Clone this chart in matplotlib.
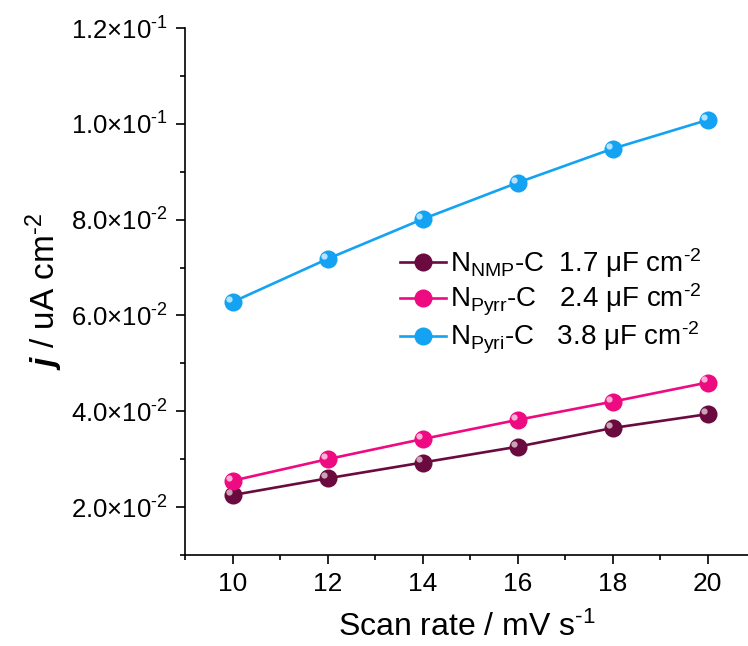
import matplotlib
matplotlib.use("Agg")
import matplotlib.pyplot as plt
from matplotlib.ticker import FixedLocator
import matplotlib.transforms as mtransforms

plt.rcParams['font.family'] = ['Liberation Sans', 'DejaVu Sans']
plt.rcParams['mathtext.fontset'] = 'custom'
plt.rcParams['mathtext.rm'] = 'Liberation Sans'
plt.rcParams['mathtext.it'] = 'Liberation Sans:italic'
plt.rcParams['mathtext.bf'] = 'Liberation Sans:bold'
plt.rcParams['mathtext.bfit'] = 'Liberation Sans:italic:bold'

scan_rate = [10, 12, 14, 16, 18, 20]
j_nmp = [0.0225, 0.0260, 0.0293, 0.0326, 0.0365, 0.0394]
j_pyrr = [0.0255, 0.0300, 0.0342, 0.0382, 0.0420, 0.0460]
j_pyri = [0.0628, 0.0718, 0.0801, 0.0877, 0.0948, 0.1008]

labels = [r'N$_{\mathrm{NMP}}$-C  1.7 μF cm$^{\text{-}2}$',
          r'N$_{\mathrm{Pyrr}}$-C   2.4 μF cm$^{\text{-}2}$',
          r'N$_{\mathrm{Pyri}}$-C   3.8 μF cm$^{\text{-}2}$']
colors = ['#6A0A3E', '#EE0A80', '#14A3F2']
highlight = ['#D9B3C6', '#FBC4E0', '#C8EBFF']
series = [j_nmp, j_pyrr, j_pyri]

yticks = [0.02, 0.04, 0.06, 0.08, 0.10, 0.12]
ytick_labels = [r'2.0$\times$10$^{\text{-}2}$', r'4.0$\times$10$^{\text{-}2}$',
                r'6.0$\times$10$^{\text{-}2}$', r'8.0$\times$10$^{\text{-}2}$',
                r'1.0$\times$10$^{\text{-}1}$', r'1.2$\times$10$^{\text{-}1}$']
xticks = [10, 12, 14, 16, 18, 20]

fig = plt.figure(figsize=(7.48, 6.46), dpi=100)
ax = fig.add_axes([185/748, 1 - 555/646, (748 - 185)/748, (555 - 28)/646])

handles = []
for ys, c, hc, lab in zip(series, colors, highlight, labels):
    ln, = ax.plot(scan_rate, ys, '-', color=c, lw=1.9, marker='o', ms=13,
                  markeredgewidth=0, label=lab, zorder=3)
    off = mtransforms.offset_copy(ax.transData, fig=fig, x=-2.2, y=2.2, units='points')
    ax.plot(scan_rate, ys, 'o', color=hc, ms=4.5, markeredgewidth=0,
            transform=off, zorder=4, alpha=0.9)
    handles.append(ln)

ax.set_xlim(9, 9 + (748 - 185) / 47.5)
ax.set_ylim(0.01, 0.12)
ax.xaxis.set_major_locator(FixedLocator(xticks))
ax.xaxis.set_minor_locator(FixedLocator([9, 11, 13, 15, 17, 19, 21]))
ax.yaxis.set_major_locator(FixedLocator(yticks))
ax.set_yticklabels(ytick_labels)
ax.yaxis.set_minor_locator(FixedLocator([0.01, 0.03, 0.05, 0.07, 0.09, 0.11]))

for s in ['top', 'right']:
    ax.spines[s].set_visible(False)
for s in ['left', 'bottom']:
    ax.spines[s].set_linewidth(1.2)

ax.tick_params(axis='both', which='major', direction='out', length=6.5, width=1.2)
ax.tick_params(axis='both', which='minor', direction='out', length=3.5, width=1.2)
ax.tick_params(axis='x', which='major', labelsize=19, pad=6)
ax.tick_params(axis='y', which='major', labelsize=18.5, pad=6)

ax.set_xlabel(r'Scan rate / mV s$^{\text{-}1}$', fontsize=23, labelpad=11)
ax.set_ylabel(r'$\mathbfit{j}$ / uA cm$^{\text{-}2}$', fontsize=24, labelpad=4)

leg = ax.legend(handles=handles, loc='upper left', bbox_to_anchor=(386/748, 1 - 232/646),
                bbox_transform=fig.transFigure, frameon=False, fontsize=20,
                handlelength=1.65, handletextpad=0.15, labelspacing=0.08, borderpad=0)

fig.savefig('out.png', dpi=100)
